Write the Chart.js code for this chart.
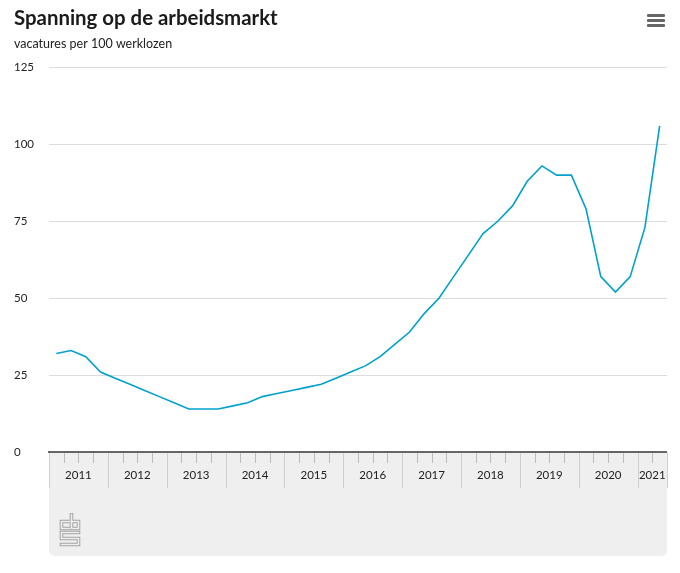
<!DOCTYPE html>
<html>
<head>
<meta charset="utf-8">
<script src="https://cdn.jsdelivr.net/npm/chart.js@4.4.1/dist/chart.umd.min.js"></script>
<style>
  html, body { margin: 0; padding: 0; background: #fff; }
  #wrap { position: relative; width: 680px; height: 573px; }
  #menu { position: absolute; left: 647px; top: 14px; width: 18px; }
  #menu span { display: block; height: 3px; background: #666; margin-bottom: 2px; border-radius: 1px; }
  #logo { position: absolute; left: 59px; top: 513px; }
</style>
</head>
<body>
<div id="wrap">
  <canvas id="chart" width="680" height="573"></canvas>
  <div id="menu"><span></span><span></span><span></span></div>
  <svg id="logo" width="22" height="34" viewBox="0 0 22 34">
    <g fill="none" stroke-linejoin="miter" stroke-linecap="square">
      <path d="M10.5 8.5 H2.5 V15.5 H10.5 M12.5 1.5 V15.5 H19.5 V8.5 H12.5 M19.5 19.5 H2.5 V25.5 H19.5 V31.5 H2.5" stroke="#a3a3a3" stroke-width="3.6"/>
      <path d="M10.5 8.5 H2.5 V15.5 H10.5 M12.5 1.5 V15.5 H19.5 V8.5 H12.5 M19.5 19.5 H2.5 V25.5 H19.5 V31.5 H2.5" stroke="#efefef" stroke-width="1.6"/>
    </g>
  </svg>
</div>
<script>
// SPANNING OP DE ARBEIDSMARKT

const years = ["2011", "2012", "2013", "2014", "2015", "2016", "2017", "2018", "2019", "2020", "2021"];
const quarterNames = ["1e kwartaal", "2e kwartaal", "3e kwartaal", "4e kwartaal"];
const vacaturesPer100 = [
    32, 33, 31, 26,
    24, 22, 20, 18,
    16, 14, 14, 14,
    15, 16, 18, 19,
    20, 21, 22, 24,
    26, 28, 31, 35,
    39, 45, 50, 57,
    64, 71, 75, 80,
    88, 93, 90, 90,
    79, 57, 52, 57,
    73, 106,
];
const yTicks = [0, 25, 50, 75, 100, 125];

const quarterLabels = years
    .flatMap((y) => quarterNames.map((q) => y + " " + q))
    .slice(0, vacaturesPer100.length);

const FONT = "Lato, 'Noto Sans', sans-serif";

// tijd-as: grijze band met jaren en kwartaalstreepjes
const yearAxis = {
    id: "yearAxis",
    beforeDraw(chart) {
        const { ctx, chartArea } = chart;
        const top = chartArea.bottom;
        ctx.save();
        ctx.fillStyle = "#efefef";
        ctx.beginPath();
        ctx.roundRect(chartArea.left, top, chartArea.right - chartArea.left, 104, [0, 0, 5, 5]);
        ctx.fill();
        ctx.restore();
    },
    afterDraw(chart) {
        const { ctx, chartArea } = chart;
        const x = chart.scales.x;
        const top = chartArea.bottom;
        const step = x.getPixelForValue(1) - x.getPixelForValue(0);
        const edge = (i) => x.getPixelForValue(i) - step / 2;
        ctx.save();

        // kwartaalstreepjes + jaarscheidingen
        for (let i = 0; i <= quarterLabels.length; i++) {
            const px = Math.round(edge(i)) + 0.5;
            const isYear = i % 4 === 0 || i === quarterLabels.length;
            ctx.strokeStyle = isYear ? "#cfcfcf" : "#bdbdbd";
            ctx.lineWidth = 1;
            ctx.beginPath();
            ctx.moveTo(px, top);
            ctx.lineTo(px, top + (isYear ? 36 : 11));
            ctx.stroke();
        }

        // jaarlabels
        ctx.fillStyle = "#222";
        ctx.font = "11.5px " + FONT;
        ctx.textAlign = "center";
        ctx.textBaseline = "middle";
        years.forEach((y, k) => {
            const first = k * 4;
            const last = Math.min(first + 4, quarterLabels.length);
            if (first >= quarterLabels.length) return;
            ctx.fillText(y, (edge(first) + edge(last)) / 2, top + 23);
        });

        // aslijn
        ctx.strokeStyle = "#666";
        ctx.lineWidth = 2;
        ctx.beginPath();
        ctx.moveTo(chartArea.left - 1, top);
        ctx.lineTo(chartArea.right, top);
        ctx.stroke();
        ctx.restore();
    },
};

const SPANNING = document.getElementById("chart");

new Chart(SPANNING, {
    type: "line",
    data: {
        labels: quarterLabels,
        datasets: [
            {
                label: "Vacatures per 100 werklozen",
                data: vacaturesPer100,
                borderColor: "#00a1cd",
                borderWidth: 1.6,
                pointRadius: 0,
                tension: 0,
                fill: false,
            },
        ],
    },
    options: {
        responsive: false,
        animation: false,
        layout: {
            padding: { left: 14, right: 13, top: 6, bottom: 121 },
        },
        plugins: {
            legend: { display: false },
            tooltip: { enabled: false },
            title: {
                display: true,
                text: "Spanning op de arbeidsmarkt",
                align: "start",
                color: "#1a1a1a",
                font: { family: FONT, size: 20.4, weight: "bold" },
                padding: { top: 0, bottom: 6 },
            },
            subtitle: {
                display: true,
                text: "vacatures per 100 werklozen",
                align: "start",
                color: "#222",
                font: { family: FONT, size: 12.5 },
                padding: { top: 0, bottom: 16 },
            },
        },
        scales: {
            x: {
                type: "category",
                display: false,
                offset: true,
            },
            y: {
                min: 0,
                max: 125,
                afterBuildTicks: (scale) => {
                    scale.ticks = yTicks.map((v) => ({ value: v }));
                },
                afterFit: (scale) => {
                    scale.width = 35;
                },
                border: { display: false },
                grid: {
                    color: "#dcdcdc",
                    drawTicks: false,
                },
                ticks: {
                    crossAlign: "far",
                    color: "#222",
                    font: { family: FONT, size: 11.5 },
                    padding: 6,
                },
            },
        },
    },
    plugins: [yearAxis],
});
</script>
</body>
</html>
